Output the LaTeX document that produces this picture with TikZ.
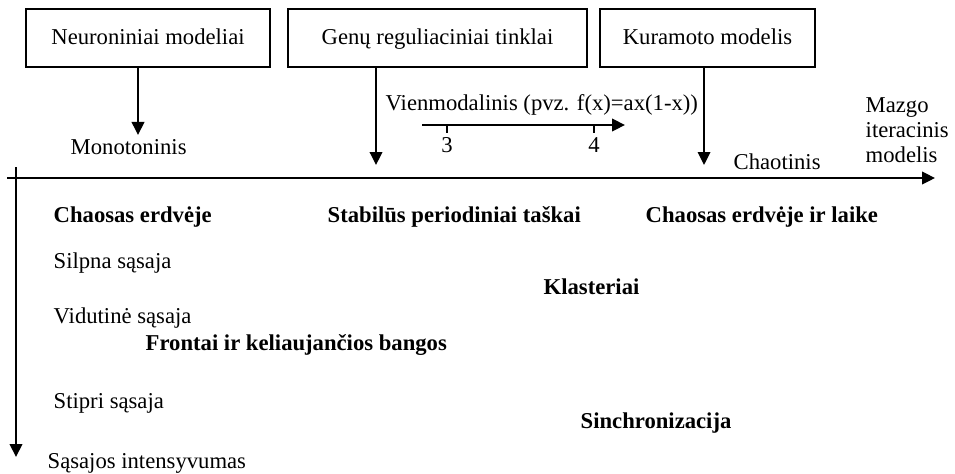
\documentclass[tikz,border=0pt]{standalone}
\usepackage{fontspec}
\setmainfont{Liberation Serif}
\usetikzlibrary{arrows.meta}
\newcommand\tekstas{\fontsize{12.9}{14.2}\selectfont}

\begin{document}
\begin{tikzpicture}[x=0.02cm,y=-0.02cm,>={Triangle[length=7.4pt,width=7.2pt]},line width=0.8pt,
	modelis/.style={draw,minimum height=1.16cm,inner sep=0pt,text height=2.1ex,text depth=0.6ex,font=\tekstas},
	zodis/.style={anchor=west,inner sep=0pt,font=\tekstas},
	sritis/.style={anchor=west,inner sep=0pt,font=\tekstas\bfseries}]
	\useasboundingbox (0,0) rectangle (955,473);
	% modeliu dezutes
	\node [modelis,minimum width=4.88cm] (neur) at (148,38) {Neuroniniai modeliai};
	\node [modelis,minimum width=5.98cm] (genu) at (437.5,38) {Genų reguliaciniai tinklai};
	\node [modelis,minimum width=4.3cm] (kur) at (707.5,38) {Kuramoto modelis};
	\coordinate (n1) at (138,135);
	\coordinate (n2) at (376,165);
	\coordinate (n3) at (704,165);
	\draw [->] (neur.south -| n1) -- (n1);
	\draw [->] (genu.south -| n2) -- (n2);
	\draw [->] (kur.south -| n3) -- (n3);
	% asys
	\coordinate (xpr) at (7,178);
	\coordinate (xgal) at (935,178);
	\coordinate (ypr) at (16,167);
	\coordinate (ygal) at (16,457);
	\draw [->] (xpr) -- (xgal);
	\draw [->] (ypr) -- (ygal);
	% vienmodalinis
	\node [zodis] (vien) at (385,105) {Vienmodalinis (pvz. f(x)=ax(1-x))};
	\coordinate (vpr) at (422,125);
	\coordinate (vgal) at (625,125);
	\draw [->] (vpr) -- (vgal);
	\foreach \x/\r in {447/3,594/4}
		\draw (\x,125) -- (\x,133) node [below,inner sep=2pt,font=\tekstas] (r\r) {\r};
	\node [zodis] (mono) at (70,147) {Monotoninis};
	\node [zodis] (chao) at (733,162) {Chaotinis};
	\node [zodis,align=left] (mazg) at (865,130) {Mazgo\\iteracinis\\modelis};
	% sasajos
	\node [zodis] (silp) at (53,263) {Silpna sąsaja};
	\node [zodis] (vidu) at (53,318) {Vidutinė sąsaja};
	\node [zodis] (stip) at (53,403) {Stipri sąsaja};
	\node [zodis] (inte) at (47,463) {Sąsajos intensyvumas};
	% rezimai
	\node [sritis] (erd) at (53,217) {Chaosas erdvėje};
	\node [sritis] (stab) at (327,217) {Stabilūs periodiniai taškai};
	\node [sritis] (laik) at (645,217) {Chaosas erdvėje ir laike};
	\node [sritis] (klas) at (543,287) {Klasteriai};
	\node [sritis] (fron) at (145,345) {Frontai ir keliaujančios bangos};
	\node [sritis] (sinc) at (580,423) {Sinchronizacija};
\end{tikzpicture}
\end{document}
